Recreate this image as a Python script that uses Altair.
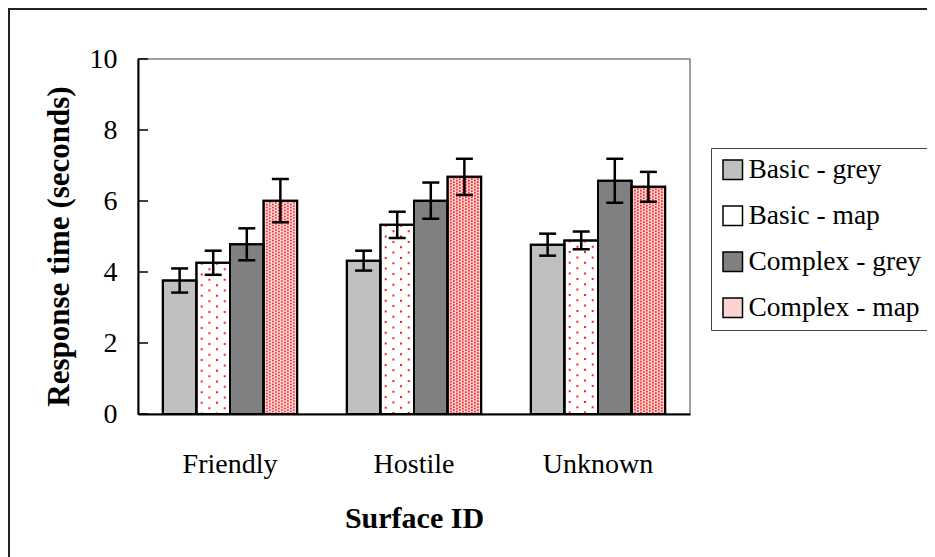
import altair as alt
import pandas as pd

categories = ["Friendly", "Hostile", "Unknown"]
series = ["Basic - grey", "Basic - map", "Complex - grey", "Complex - map"]
values = {
    "Basic - grey": [3.76, 4.32, 4.77],
    "Basic - map": [4.26, 5.33, 4.89],
    "Complex - grey": [4.78, 6.01, 6.57],
    "Complex - map": [6.01, 6.68, 6.40],
}
errors = {
    "Basic - grey": [0.34, 0.28, 0.31],
    "Basic - map": [0.34, 0.37, 0.25],
    "Complex - grey": [0.45, 0.51, 0.62],
    "Complex - map": [0.61, 0.51, 0.42],
}
fills = ["#c0c0c0", "#ffffff", "#808080", "#fbd2d2"]
y_ticks = [0, 2, 4, 6, 8, 10]

rows = []
for s in series:
    for i, c in enumerate(categories):
        v = values[s][i]
        e = errors[s][i]
        rows.append({"category": c, "series": s, "value": v, "lo": v - e, "hi": v + e})
df = pd.DataFrame(rows)
ticks_df = pd.DataFrame({"tick": y_ticks})
frame_df = pd.DataFrame({"k": [0]})

FONT = "Liberation Serif"
W, H = 552, 355
P_IN, P_OUT = 0.27, 0.135

x_enc = alt.X(
    "category:N",
    sort=categories,
    scale=alt.Scale(paddingInner=P_IN, paddingOuter=P_OUT),
    axis=alt.Axis(
        title="Surface ID",
        labelAngle=0,
        labelPadding=36,
        labelFontSize=28,
        labelFont=FONT,
        labelColor="#000000",
        ticks=False,
        domainColor="#000000",
        domainWidth=2,
        titleFont=FONT,
        titleFontSize=30,
        titleFontWeight="bold",
        titleColor="#000000",
        titleX=W / 2,
        titleY=113,
        titleAnchor="middle",
        titleBaseline="alphabetic",
    ),
)
xo_enc = alt.XOffset("series:N", sort=series, scale=alt.Scale(domain=series, paddingInner=0, paddingOuter=0))
y_scale = alt.Scale(domain=[0, 10], nice=False)
y_enc = alt.Y(
    "value:Q",
    scale=y_scale,
    axis=alt.Axis(
        title="Response time (seconds)",
        values=y_ticks,
        ticks=False,
        grid=False,
        labelPadding=21,
        labelFontSize=28,
        labelFont=FONT,
        labelColor="#000000",
        domainColor="#000000",
        domainWidth=2,
        titleFont=FONT,
        titleFontSize=31,
        titleFontWeight="bold",
        titleColor="#000000",
        titleAngle=-90,
        titleX=-70,
        titleY=187,
        titleAlign="center",
        titleBaseline="alphabetic",
    ),
)

base = alt.Chart(df)

frame = alt.Chart(frame_df).mark_rect(fillOpacity=0, stroke="#222222", strokeWidth=2).encode(
    x=alt.value(-129), x2=alt.value(1200), y=alt.value(-50), y2=alt.value(1200)
)

bars = base.mark_bar(stroke="#000000", strokeWidth=2).encode(
    x=x_enc,
    xOffset=xo_enc,
    y=y_enc,
    color=alt.Color(
        "series:N",
        sort=series,
        scale=alt.Scale(domain=series, range=fills),
        legend=alt.Legend(
            title=None,
            orient="none",
            legendX=573,
            legendY=89,
            symbolType="square",
            symbolSize=380,
            symbolStrokeColor="#000000",
            symbolStrokeWidth=1.5,
            symbolOpacity=1,
            labelFont=FONT,
            labelFontSize=27.5,
            labelColor="#000000",
            labelOffset=2,
            rowPadding=17,
            padding=8,
            strokeColor="#444444",
            fillColor="#ffffff",
            labelLimit=400,
        ),
    ),
)

# dotted texture for the "map" series: positions inside the category band
band_w = W / (len(categories) - P_IN + 2 * P_OUT) * (1 - P_IN)
sub_w = band_w / len(series)


def band_pos(series_idx, px_off):
    return ((series_idx + 0.5) * sub_w + px_off) / band_w


dot_layers = []
sparse_offsets = [-11.5, -3.8, 3.8, 11.5]
for j, off in enumerate(sparse_offsets):
    dot_layers.append(
        base.transform_filter(alt.datum.series == "Basic - map")
        .mark_rule(stroke="#ff2020", strokeWidth=2, strokeDash=[2, 8.7],
                   strokeDashOffset=0 if j % 2 == 0 else 5.3)
        .encode(x=alt.X("category:N", sort=categories, bandPosition=band_pos(1, off)),
                y=alt.Y("value:Q", scale=y_scale), y2=alt.datum(0))
    )
dense_offsets = [-13.5, -10.5, -7.5, -4.5, -1.5, 1.5, 4.5, 7.5, 10.5, 13.5]
for j, off in enumerate(dense_offsets):
    dot_layers.append(
        base.transform_filter(alt.datum.series == "Complex - map")
        .mark_rule(stroke="#ff2020", strokeWidth=1.6, strokeDash=[1.6, 1.4],
                   strokeDashOffset=0 if j % 2 == 0 else 1.5)
        .encode(x=alt.X("category:N", sort=categories, bandPosition=band_pos(3, off)),
                y=alt.Y("value:Q", scale=y_scale), y2=alt.datum(0))
    )

outline = base.mark_bar(fillOpacity=0, stroke="#000000", strokeWidth=2).encode(
    x=alt.X("category:N", sort=categories), xOffset=xo_enc, y=alt.Y("value:Q", scale=y_scale)
)

err_rule = base.mark_rule(stroke="#000000", strokeWidth=2.5).encode(
    x=alt.X("category:N", sort=categories), xOffset=xo_enc,
    y=alt.Y("lo:Q", scale=y_scale), y2="hi:Q"
)
cap_lo = base.mark_tick(color="#000000", size=17, thickness=2.5, opacity=1).encode(
    x=alt.X("category:N", sort=categories), xOffset=xo_enc, y=alt.Y("lo:Q", scale=y_scale)
)
cap_hi = base.mark_tick(color="#000000", size=17, thickness=2.5, opacity=1).encode(
    x=alt.X("category:N", sort=categories), xOffset=xo_enc, y=alt.Y("hi:Q", scale=y_scale)
)

inner_ticks = alt.Chart(ticks_df).mark_rule(stroke="#000000", strokeWidth=1.5).encode(
    y=alt.Y("tick:Q", scale=y_scale), x=alt.value(0), x2=alt.value(10)
)

chart = (
    alt.layer(frame, bars, *dot_layers, outline, err_rule, cap_lo, cap_hi, inner_ticks)
    .properties(
        width=W,
        height=H,
        autosize=alt.AutoSizeParams(type="none"),
        padding={"left": 130, "top": 51, "right": 237, "bottom": 143},
        background="#ffffff",
    )
    .configure_view(stroke="#808080", strokeWidth=1.5)
)

chart.save("out.html", embed_options={"renderer": "svg", "actions": False})
